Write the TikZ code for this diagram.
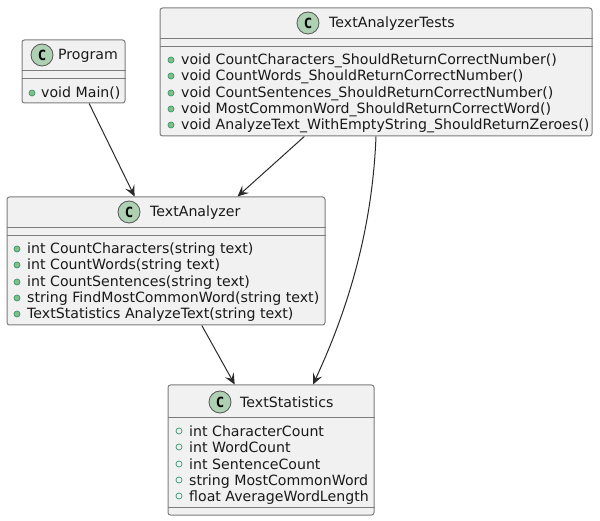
\documentclass[tikz,border=0pt]{standalone}
\usepackage{fontspec}
\setmainfont{DejaVu Sans}
\setmonofont{DejaVu Sans Mono}
\usetikzlibrary{arrows.meta, calc}
\definecolor{colBorde}{HTML}{7C7C7C}
\definecolor{colLinea}{HTML}{2A2A2A}
\definecolor{colFondo}{HTML}{F1F1F1}
\definecolor{colCirculo}{HTML}{ADD1B2}
\definecolor{colPunto}{HTML}{84BE84}
\definecolor{colPuntoBorde}{HTML}{038048}
\tikzset{
  cajaClase/.style={
    draw=colBorde, line width=1pt, rounded corners=2.5pt,
    fill=colFondo, inner sep=0pt
  },
  separador/.style={draw=colBorde, line width=1pt},
  circuloClase/.style={circle, draw=colLinea!80, line width=0.8pt, fill=colCirculo,
    minimum size=22pt, inner sep=0pt, font=\fontsize{14}{14}\selectfont\ttfamily\bfseries},
  tituloClase/.style={anchor=base west, inner sep=0pt, text=black!90,
    font=\fontsize{14.15}{14}\selectfont},
  miembro/.style={anchor=base west, inner sep=0pt, text=black!90,
    font=\fontsize{14.15}{14}\selectfont},
  metodo/.style={circle, draw=colPuntoBorde!80, line width=0.7pt, fill=colPunto,
    minimum size=6pt, inner sep=0pt},
  campo/.style={circle, draw=colPuntoBorde!80, line width=0.7pt, fill=none,
    minimum size=6pt, inner sep=0pt},
  flecha/.style={-{Stealth[length=11pt, width=10pt, inset=4.5pt]}, line width=1pt, colLinea},
}
\begin{document}
\begin{tikzpicture}[x=1pt, y=-1pt]
    \useasboundingbox (0,0) rectangle (600,521);

    % cajas
    \node[cajaClase, minimum width=103pt, minimum height=63pt] (program) at (73.5,71.5) {};
    \node[cajaClase, minimum width=432pt, minimum height=128pt] (tests) at (376,72) {};
    \node[cajaClase, minimum width=318pt, minimum height=128pt] (analyzer) at (166,261) {};
    \node[cajaClase, minimum width=206pt, minimum height=130pt] (stats) at (271,450) {};

    % separadores
    \foreach \caja/\y in {program/71, program/79, tests/39, tests/47,
                          analyzer/228, analyzer/236, stats/417, stats/507}{
        \draw[separador] (\caja.west |- 0,\y) -- (\caja.east |- 0,\y);
      }

    % titulos
    \node[circuloClase] (cProgram) at (42,55) {C};
    \node[tituloClase] (tProgram) at (58,60) {Program};
    \node[circuloClase] (cTests) at (308,23) {C};
    \node[tituloClase] (tTests) at (329,28) {TextAnalyzerTests};
    \node[circuloClase] (cAnalyzer) at (129,212) {C};
    \node[tituloClase] (tAnalyzer) at (150,217) {TextAnalyzer};
    \node[circuloClase] (cStats) at (220,402) {C};
    \node[tituloClase] (tStats) at (240,407) {TextStatistics};

    % miembros
    \node[metodo] (pProgram) at (32,93) {};
    \node[miembro] (mProgram) at (41,98) {void Main()};

    \foreach \y/\n/\txt in {
        60/1/{void CountCharacters\_ShouldReturnCorrectNumber()},
        76/2/{void CountWords\_ShouldReturnCorrectNumber()},
        93/3/{void CountSentences\_ShouldReturnCorrectNumber()},
        109/4/{void MostCommonWord\_ShouldReturnCorrectWord()},
        125/5/{void AnalyzeText\_WithEmptyString\_ShouldReturnZeroes()}
      }{
        \node[metodo] (pTests\n) at (171,\y) {};
        \node[miembro] (mTests\n) at (181,\y+5) {\txt};
      }

    \foreach \y/\n/\txt in {
        249/1/{int CountCharacters(string text)},
        265/2/{int CountWords(string text)},
        282/3/{int CountSentences(string text)},
        298/4/{string FindMostCommonWord(string text)},
        314/5/{TextStatistics AnalyzeText(string text)}
      }{
        \node[metodo] (pAnalyzer\n) at (17,\y) {};
        \node[miembro] (mAnalyzer\n) at (27,\y+5) {\txt};
      }

    \foreach \y/\n/\txt in {
        431/1/{int CharacterCount},
        447/2/{int WordCount},
        464/3/{int SentenceCount},
        480/4/{string MostCommonWord},
        496/5/{float AverageWordLength}
      }{
        \node[campo] (pStats\n) at (179,\y) {};
        \node[miembro] (mStats\n) at (189,\y+5) {\txt};
      }

    % relaciones
    \coordinate (llegada) at ($(stats.north)+(42,0)$);
    \draw[flecha] (program) -- (analyzer);
    \draw[flecha] (tests) -- (analyzer);
    \draw[flecha] (analyzer) -- (stats);
    \draw[flecha] (tests.south) .. controls (373,210) and (357,290) .. (llegada);
  \end{tikzpicture}
\end{document}
